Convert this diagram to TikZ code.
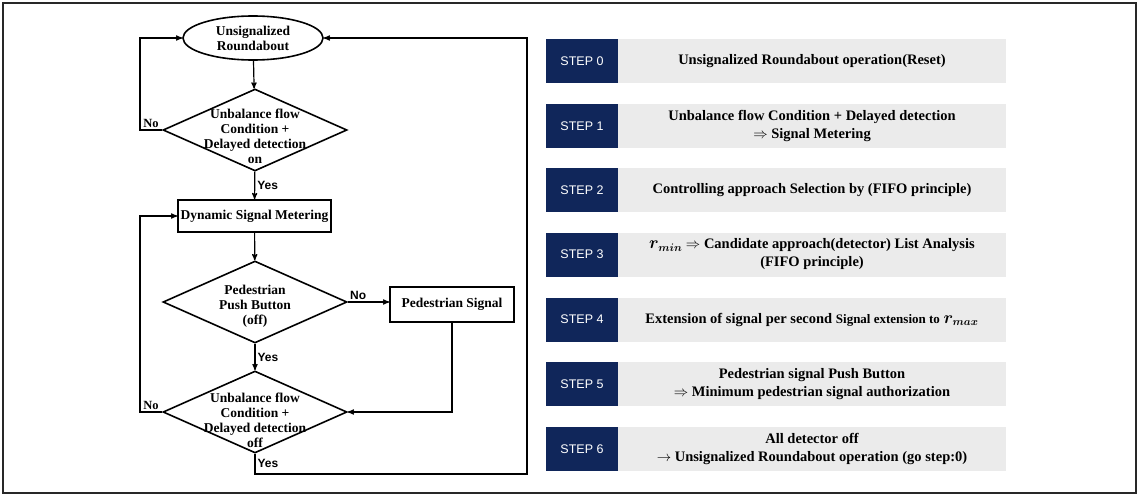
\documentclass[tikz,border=0pt]{standalone}
\usepackage{amsmath, amssymb}
\usepackage{fontspec}
\setmainfont{Liberation Serif}
\setsansfont{Liberation Sans}
\usetikzlibrary{arrows, shapes.geometric}
\definecolor{stepblue}{RGB}{16,38,90}
\definecolor{stepgrey}{RGB}{235,235,235}
\definecolor{framegrey}{RGB}{40,40,40}
\newcommand{\rsym}[1]{{\fontsize{16}{18}\selectfont\boldmath$r_{#1}$}}

\begin{document}
\begin{tikzpicture}
        [x=1pt, y=-1pt,
        flow/.style={draw=black, line width=1.6pt, fill=white, align=center, inner sep=0pt},
        terminal/.style={flow, ellipse, minimum width=140, minimum height=44},
        process/.style={flow, rectangle},
        decision/.style={flow, diamond, minimum width=184, minimum height=82},
        flowtext/.style={align=center, font=\fontsize{13.5}{15}\selectfont\bfseries},
        yesno/.style={font=\sffamily\bfseries\fontsize{12}{13}\selectfont, inner sep=2pt},
        noleft/.style={font=\bfseries\fontsize{12.5}{13}\selectfont, inner sep=2pt},
        arr/.style={->,>=stealth',line width=1.2pt},
        steplabel/.style={fill=stepblue, text=white, minimum width=72, minimum height=44,
           inner sep=0pt, font=\sffamily\fontsize{12.5}{14}\selectfont},
        stepdesc/.style={fill=stepgrey, minimum width=388, minimum height=44, inner sep=0pt,
           align=center, font=\fontsize{14.5}{18}\selectfont\bfseries}]
        \useasboundingbox (0,0) rectangle (1139,495);
        \draw[framegrey, line width=2pt] (3,3) rectangle (1136,493);

        % flow chart
        \node (start) at (253, 38) [terminal] {};
        \node at (start) [flowtext] {Unsignalized\\Roundabout};
        \node (d1) at (255, 130) [decision] {};
        \node at ([yshift=-6]d1) [flowtext] {Unbalance flow\\Condition +\\Delayed detection\\on};
        \node (meter) at (254.5, 216) [process, minimum width=153, minimum height=32]
           {\fontsize{13.5}{15}\selectfont\bfseries Dynamic Signal Metering};
        \node (d2) at (255, 302) [decision] {};
        \node at ([yshift=-4]d2) [flowtext] {Pedestrian\\Push Button\\(off)};
        \node (ped) at (452, 304.5) [process, minimum width=124, minimum height=35]
           {\fontsize{13.5}{15}\selectfont\bfseries Pedestrian Signal};
        \node (d3) at (255, 412) [decision] {};
        \node at ([yshift=-8]d3) [flowtext] {Unbalance flow\\Condition +\\Delayed detection\\off};

        \coordinate (lft) at (140, 0);
        \coordinate (rgt) at (527, 474);

        \draw[arr] (start) -- (d1);
        \draw[arr] (d1) -- node[yesno, right] {Yes} (meter);
        \draw[arr] (meter) -- (d2);
        \draw[arr] (d2) -- node[yesno, right] {Yes} (d3);
        \draw[arr] (d2.east) -- node[yesno, above, pos=0.25] {No} (d2.east -| ped.west);
        \draw[arr] (ped.south) |- (d3.east);
        \draw[arr] (d1.west) -- node[noleft, above] {No} (d1.west -| lft) |- (start.west);
        \draw[arr] (d3.west) -- node[noleft, above] {No} (d3.west -| lft) |- (meter.west);
        \draw[arr] (d3.south) |- node[yesno, right, pos=0.25] {Yes} (rgt) |- (start.east);

        % step list
        \node (s0) at (582, 61) [steplabel] {STEP 0};
        \node (t0) at (812, 61) [stepdesc] {Unsignalized Roundabout operation(Reset)};
        \node (s1) at (582, 126) [steplabel] {STEP 1};
        \node (t1) at (812, 126) [stepdesc]
           {Unbalance flow Condition + Delayed detection\\$\Rightarrow$ Signal Metering};
        \node (s2) at (582, 190) [steplabel] {STEP 2};
        \node (t2) at (812, 190) [stepdesc] {Controlling approach Selection by (FIFO principle)};
        \node (s3) at (582, 254.5) [steplabel] {STEP 3};
        \node (t3) at (812, 254.5) [stepdesc]
           {\rsym{min} $\Rightarrow$ Candidate approach(detector) List Analysis\\(FIFO principle)};
        \node (s4) at (582, 319.5) [steplabel] {STEP 4};
        \node (t4) at (812, 319.5) [stepdesc]
           {Extension of signal per second {\fontsize{13}{15}\selectfont Signal extension to} \rsym{max}};
        \node (s5) at (582, 384) [steplabel] {STEP 5};
        \node (t5) at (812, 384) [stepdesc]
           {Pedestrian signal Push Button\\$\Rightarrow$ Minimum pedestrian signal authorization};
        \node (s6) at (582, 449) [steplabel] {STEP 6};
        \node (t6) at (812, 449) [stepdesc]
           {All detector off\\$\rightarrow$ Unsignalized Roundabout operation (go step:0)};
     \end{tikzpicture}
\end{document}
